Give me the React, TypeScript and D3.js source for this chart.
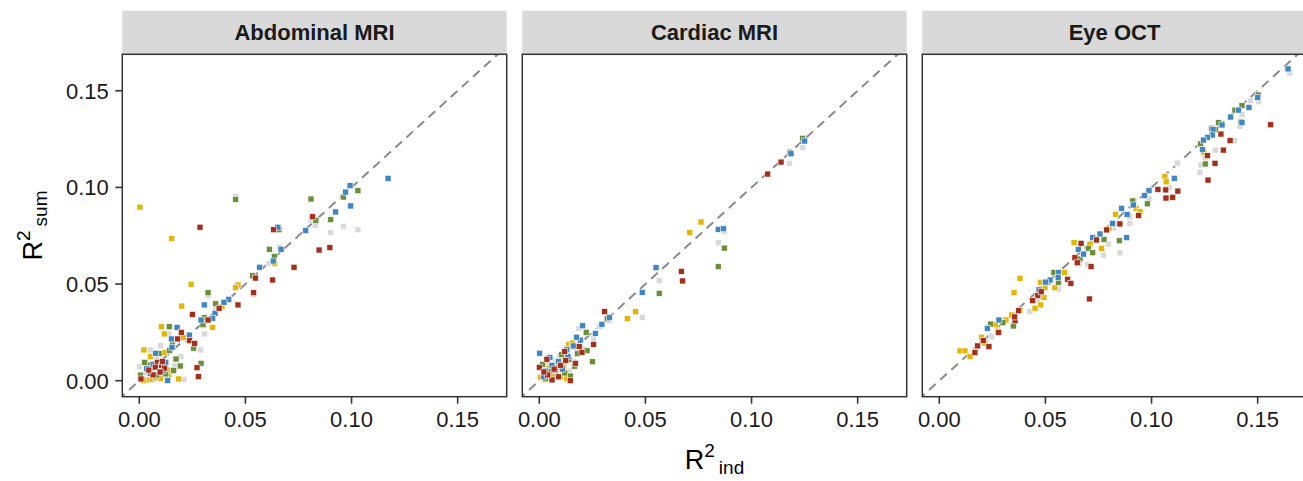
import React from "react";
import * as d3 from "d3";

const panels = ["Abdominal MRI", "Cardiac MRI", "Eye OCT"];
const xTicks = [0, 0.05, 0.1, 0.15];
const yTicks = [0, 0.05, 0.1, 0.15];
const tickLabels = ["0.00", "0.05", "0.10", "0.15"];

type P = [number, number];

const abdBlue: P[] = [[0.1172,0.1047],[0.0993,0.1009],[0.0972,0.0976],[0.0996,0.0904],[0.0925,0.0873],[0.0784,0.0776],[0.0653,0.0794],[0.0668,0.068],[0.0631,0.0619],[0.0567,0.0587],[0.0423,0.0419],[0.0306,0.0392],[0.0421,0.0421],[0.0399,0.0406],[0.0357,0.0349],[0.0291,0.0314],[0.0346,0.0323],[0.0178,0.0276],[0.0236,0.0236],[0.0151,0.0216],[0.0154,0.0173],[0.0077,0.0142],[0.0134,0.0],[0.0052,0.0038],[0.0113,0.0052],[0.0035,0.0062],[0.0125,0.0095],[0.0065,0.0085]];
const abdGreen: P[] = [[0.103,0.0983],[0.0961,0.095],[0.0809,0.094],[0.0832,0.0828],[0.0902,0.0833],[0.0658,0.0781],[0.0613,0.068],[0.0636,0.0642],[0.0534,0.0543],[0.0454,0.0938],[0.0324,0.0455],[0.036,0.0398],[0.0306,0.0326],[0.03,0.029],[0.0141,0.0279],[0.0157,0.0185],[0.0256,0.0168],[0.0143,0.0157],[0.0093,0.014],[0.0173,0.0112],[0.0291,0.009],[0.0193,0.0076],[0.0162,0.0052],[0.0044,0.0081],[0.0005,0.0029],[0.0083,0.0029],[0.0125,0.0035],[0.0025,0.0095]];
const abdRed: P[] = [[0.0286,0.0794],[0.0817,0.0848],[0.0847,0.0676],[0.0898,0.0688],[0.0633,0.0781],[0.0729,0.0587],[0.0547,0.0531],[0.0628,0.0521],[0.0539,0.0455],[0.0465,0.0392],[0.0376,0.0375],[0.025,0.0343],[0.0324,0.0314],[0.0198,0.025],[0.0181,0.0216],[0.0237,0.0207],[0.0261,0.0193],[0.0272,0.0067],[0.0278,0.0021],[0.0085,0.0095],[0.0105,0.008],[0.012,0.0065],[0.0075,0.007],[0.0098,0.0045],[0.0065,0.003],[0.0008,0.0009],[0.0045,0.0055],[0.011,0.01]];
const abdYellow: P[] = [[0.0003,0.0898],[0.0153,0.0735],[0.0638,0.0607],[0.0244,0.0499],[0.0465,0.0495],[0.0454,0.0481],[0.02,0.0386],[0.039,0.0383],[0.0346,0.0276],[0.0104,0.0279],[0.0118,0.0242],[0.0209,0.0224],[0.0022,0.0159],[0.012,0.0145],[0.0052,0.0124],[0.0146,0.0055],[0.0186,0.0009],[0.0139,0.0024],[0.0036,0.0004],[0.006,0.0007],[0.002,0.0],[0.01,0.001],[0.0075,0.0015]];
const abdGray: P[] = [[0.0454,0.0954],[0.0809,0.0831],[0.0829,0.0804],[0.0961,0.0799],[0.103,0.0781],[0.09,0.0766],[0.066,0.069],[0.0611,0.0607],[0.0324,0.044],[0.0538,0.0445],[0.036,0.0375],[0.0314,0.0309],[0.0303,0.0284],[0.0308,0.0242],[0.0139,0.0242],[0.0221,0.021],[0.0289,0.0159],[0.0101,0.0181],[0.0052,0.0159],[0.008,0.011],[0.0196,0.0124],[0.0167,0.0076],[0.0211,0.0007],[0.0,0.0072],[0.0107,0.0021],[0.003,0.004]];

const carBlue: P[] = [[0.125,0.124],[0.1186,0.1174],[0.0843,0.0783],[0.0867,0.0786],[0.055,0.0585],[0.0485,0.0457],[0.033,0.0328],[0.0295,0.0292],[0.0204,0.0284],[0.0264,0.0245],[0.0193,0.021],[0.013,0.016],[0.0002,0.0142],[0.009,0.01],[0.006,0.008],[0.003,0.005],[0.011,0.006],[0.016,0.018],[0.005,0.012],[0.002,0.002],[0.0135,0.0125],[0.0075,0.0055],[0.0175,0.0225]];
const carGreen: P[] = [[0.1241,0.1254],[0.1181,0.1182],[0.0872,0.0686],[0.0843,0.059],[0.0565,0.0452],[0.032,0.032],[0.0221,0.025],[0.0225,0.0155],[0.025,0.0098],[0.014,0.011],[0.005,0.005],[0.0146,0.0024],[0.012,0.004],[0.018,0.014],[0.009,0.007],[0.003,0.001],[0.0105,0.0135],[0.0165,0.0075],[0.0015,0.0085]];
const carRed: P[] = [[0.1139,0.1131],[0.1076,0.1069],[0.0669,0.0566],[0.0675,0.0516],[0.0308,0.0357],[0.0256,0.0188],[0.0188,0.0176],[0.0201,0.0147],[0.012,0.015],[0.0036,0.0111],[0.0,0.0069],[0.009,0.002],[0.006,0.0004],[0.0146,0.0],[0.017,0.009],[0.01,0.008],[0.004,0.003],[0.007,0.006],[0.0125,0.0105],[0.0022,0.0045]];
const carYellow: P[] = [[0.0762,0.0821],[0.0709,0.0766],[0.0454,0.0357],[0.0415,0.0321],[0.0139,0.0188],[0.0107,0.0128],[0.0115,0.007],[0.008,0.004],[0.0005,0.0018],[0.004,0.001],[0.01,0.002],[0.006,0.003],[0.0025,0.0005],[0.013,0.001],[0.0155,0.0195],[0.0085,0.0095],[0.0045,0.0065]];
const carGray: P[] = [[0.1241,0.1205],[0.1178,0.1125],[0.0872,0.0773],[0.0843,0.0714],[0.0565,0.0517],[0.0485,0.0328],[0.033,0.031],[0.0283,0.0279],[0.0186,0.0271],[0.0256,0.0219],[0.0178,0.0188],[0.014,0.017],[0.0075,0.0107],[0.016,0.01],[0.002,0.006],[0.007,0.004],[0.011,0.003],[0.014,0.005],[0.004,0.009],[0.001,0.002],[0.0095,0.0125],[0.0055,0.0015],[0.0205,0.0165]];

const eyeBlue: P[] = [[0.1643,0.1613],[0.15,0.1466],[0.1459,0.1414],[0.1409,0.14],[0.1373,0.1364],[0.1426,0.1335],[0.1332,0.1323],[0.129,0.13],[0.1286,0.1271],[0.1263,0.1259],[0.1245,0.1245],[0.124,0.1195],[0.1107,0.1047],[0.0988,0.0983],[0.0966,0.0957],[0.0914,0.0909],[0.0859,0.0892],[0.0885,0.086],[0.0817,0.0814],[0.0757,0.0759],[0.0723,0.074],[0.0883,0.074],[0.0655,0.068],[0.068,0.0655],[0.0562,0.0559],[0.056,0.0535],[0.0522,0.0521],[0.05,0.051],[0.0281,0.0314],[0.0226,0.0271],[0.047,0.047]];
const eyeGreen: P[] = [[0.1503,0.1478],[0.1426,0.1423],[0.1393,0.14],[0.1421,0.134],[0.1316,0.1335],[0.1283,0.1306],[0.1302,0.1298],[0.1231,0.1225],[0.1253,0.1121],[0.0914,0.0931],[0.098,0.0915],[0.0911,0.093],[0.0848,0.0724],[0.0776,0.0731],[0.0702,0.0685],[0.0723,0.0662],[0.0663,0.063],[0.0561,0.0509],[0.051,0.051],[0.0349,0.0283],[0.0242,0.0293],[0.03,0.03],[0.054,0.056]];
const eyeRed: P[] = [[0.1561,0.1324],[0.1327,0.1276],[0.137,0.1242],[0.1338,0.1193],[0.1263,0.1164],[0.1299,0.1125],[0.1266,0.1038],[0.103,0.099],[0.1067,0.0987],[0.1124,0.0981],[0.1068,0.0945],[0.11,0.0949],[0.0939,0.0854],[0.0851,0.0811],[0.0789,0.078],[0.0741,0.0728],[0.0668,0.0711],[0.0639,0.0636],[0.065,0.061],[0.0715,0.059],[0.0605,0.0525],[0.062,0.0504],[0.0707,0.0423],[0.0464,0.044],[0.044,0.0414],[0.0374,0.0362],[0.0357,0.031],[0.0181,0.018],[0.0234,0.0176],[0.0168,0.0145],[0.0207,0.0207],[0.028,0.025],[0.0355,0.033],[0.048,0.046]];
const eyeYellow: P[] = [[0.1247,0.1182],[0.1063,0.1057],[0.1069,0.1029],[0.0927,0.0892],[0.0946,0.0874],[0.0831,0.0861],[0.08,0.079],[0.071,0.0707],[0.0765,0.0685],[0.0635,0.0714],[0.0545,0.0481],[0.0478,0.0509],[0.0498,0.0481],[0.0493,0.0431],[0.047,0.0445],[0.0478,0.0392],[0.0451,0.0375],[0.038,0.053],[0.0352,0.0455],[0.0341,0.034],[0.0314,0.0314],[0.038,0.0365],[0.0265,0.029],[0.02,0.0225],[0.0098,0.0154],[0.0121,0.0154],[0.0145,0.0124],[0.0215,0.0195],[0.059,0.056],[0.0275,0.0255]];
const eyeGray: P[] = [[0.1652,0.1592],[0.1505,0.1443],[0.1467,0.1449],[0.1426,0.1376],[0.1417,0.1316],[0.139,0.1242],[0.1302,0.1193],[0.1252,0.1152],[0.1233,0.1116],[0.1121,0.1126],[0.1228,0.1078],[0.1083,0.1],[0.0989,0.094],[0.0898,0.0848],[0.0898,0.0814],[0.0796,0.0707],[0.0851,0.0662],[0.0773,0.065],[0.066,0.0604],[0.07,0.06],[0.0561,0.0474],[0.0427,0.0357],[0.0247,0.0228],[0.046,0.042],[0.082,0.079]];

const seriesColors = ["#d9d9d9", "#e3b505", "#6b8e3a", "#3f86c2", "#a3301c"];
const panelData: P[][][] = [
  [abdGray, abdYellow, abdGreen, abdBlue, abdRed],
  [carGray, carYellow, carGreen, carBlue, carRed],
  [eyeGray, eyeYellow, eyeGreen, eyeBlue, eyeRed],
];

const W = 1303;
const H = 481;
const panelLeft = [122.3, 522.3, 922.3];
const panelW = 384.4;
const top = 54.3;
const bottom = 396.7;
const stripTop = 10.7;
const font = "'Liberation Sans', Arial, Helvetica, sans-serif";

export default function App() {
  const x = d3.scaleLinear().domain([-0.008, 0.1731]).range([0, panelW]);
  const y = d3.scaleLinear().domain([-0.00828, 0.16886]).range([bottom, top]);
  const s = 6;
  return (
    <svg width={W} height={H} style={{ position: "absolute", left: 0, top: 0, background: "#fff" }} fontFamily={font}>
      <rect x={0} y={0} width={W} height={H} fill="#fff" />
      {panels.map((name, pi) => {
        const L = panelLeft[pi];
        const clipId = `clip${pi}`;
        const lineData: P[] = [[-0.01, -0.01], [0.2, 0.2]];
        const line = d3.line<P>().x((d) => x(d[0])).y((d) => y(d[1]));
        return (
          <g key={name}>
            <defs>
              <clipPath id={clipId}>
                <rect x={0} y={top} width={panelW} height={bottom - top} />
              </clipPath>
            </defs>
            <rect x={L} y={stripTop} width={panelW} height={top - stripTop} fill="#d9d9d9" />
            <text x={L + panelW / 2} y={40} textAnchor="middle" fontWeight="bold" fontSize={22} fill="#1a1a1a">
              {name}
            </text>
            <g transform={`translate(${L},0)`}>
              <g clipPath={`url(#${clipId})`}>
                <path d={line(lineData) || ""} stroke="#8a8a8a" strokeWidth={2} strokeDasharray="9,6" fill="none" />
                {panelData[pi].map((ser, si) =>
                  ser.map((d, k) => (
                    <rect
                      key={`${si}-${k}`}
                      x={x(d[0]) - s / 2}
                      y={y(d[1]) - s / 2}
                      width={s}
                      height={s}
                      fill={seriesColors[si]}
                      stroke="#ffffff"
                      strokeWidth={0.6}
                    />
                  ))
                )}
              </g>
              <rect x={0} y={top} width={panelW} height={bottom - top} fill="none" stroke="#333" strokeWidth={1.5} />
              {xTicks.map((t, ti) => (
                <g key={ti}>
                  <line x1={x(t)} x2={x(t)} y1={bottom} y2={bottom + 7} stroke="#333" strokeWidth={1.6} />
                  <text x={x(t)} y={426.5} textAnchor="middle" fontSize={22} fill="#1a1a1a">
                    {tickLabels[ti]}
                  </text>
                </g>
              ))}
              {pi === 0 &&
                yTicks.map((t, ti) => (
                  <g key={`y${ti}`}>
                    <line x1={-7} x2={0} y1={y(t)} y2={y(t)} stroke="#333" strokeWidth={1.6} />
                    <text x={-13.5} y={y(t) + 8} textAnchor="end" fontSize={22} fill="#1a1a1a">
                      {tickLabels[ti]}
                    </text>
                  </g>
                ))}
            </g>
          </g>
        );
      })}
      <text x={714.5} y={469} textAnchor="middle" fontSize={27} fill="#000">
        R<tspan fontSize={19} dy={-12}>2</tspan>
        <tspan fontSize={19} dy={17} dx={4}>ind</tspan>
      </text>
      <text transform={`translate(42,225.5) rotate(-90)`} textAnchor="middle" fontSize={27} fill="#000">
        R<tspan fontSize={19} dy={-12}>2</tspan>
        <tspan fontSize={19} dy={17} dx={4}>sum</tspan>
      </text>
    </svg>
  );
}
